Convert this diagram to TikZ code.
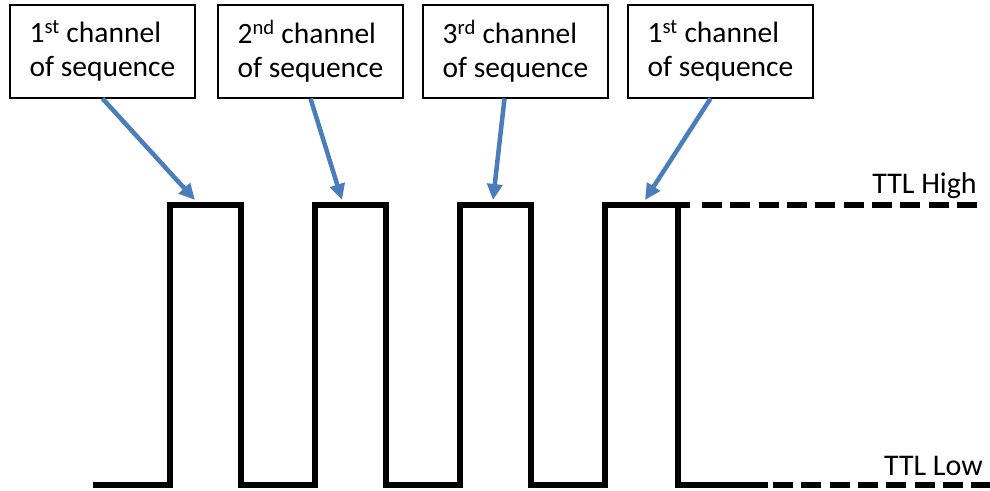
\documentclass[tikz,border=0pt]{standalone}
\usepackage{fontspec}
\setmainfont{Carlito}
\usetikzlibrary{arrows.meta}
\definecolor{arrowblue}{RGB}{74,126,187}

\begin{document}
\begin{tikzpicture}[x=1pt,y=-1pt,
  chbox/.style={draw,line width=2pt,minimum width=185pt,minimum height=93pt,
    align=left,inner sep=0pt,font=\fontsize{29.5}{34}\selectfont},
  pointer/.style={-{Triangle[length=16pt,width=15pt]},line width=4.5pt,arrowblue},
  wave/.style={line width=6.5pt,line join=miter},
  level/.style={wave,dash pattern=on 20pt off 8.33pt},
  ttl/.style={anchor=base east,inner sep=0pt,font=\fontsize{30}{34}\selectfont}]
\useasboundingbox (0,0) rectangle (990,490);
% ---------- channel boxes ----------
\node[chbox] (ch1) at (102.5,51) {1\textsuperscript{st} channel\\of sequence};
\node[chbox] (ch2) at (310.5,51) {2\textsuperscript{nd} channel\\of sequence};
\node[chbox] (ch3) at (515.5,51) {3\textsuperscript{rd} channel\\of sequence};
\node[chbox] (ch4) at (720.5,51) {1\textsuperscript{st} channel\\of sequence};
% ---------- pulse train ----------
\draw[wave] (93,485) -- (170,485) -- (170,205) -- (241,205) -- (241,485)
  -- (315,485) -- (315,205) -- (386,205) -- (386,485)
  -- (460,485) -- (460,205) -- (531,205) -- (531,485)
  -- (605,485) -- (605,205) -- (678,205) -- (678,485) -- (768,485);
\draw[wave] (678,205) -- (690,205);
\draw[level] (702,205) -- (978,205);
\draw[level] (773,485) -- (990,485);
\node[ttl] (high) at (977,193) {TTL High};
\node[ttl] (low) at (983,475) {TTL Low};
% ---------- pointers ----------
\coordinate (t1) at (195,200);
\coordinate (t2) at (342,200);
\coordinate (t3) at (493,200);
\coordinate (t4) at (645,200);
\draw[pointer] (ch1.south) -- (t1);
\draw[pointer] (ch2.south) -- (t2);
\draw[pointer] ([xshift=-11pt]ch3.south) -- (t3);
\draw[pointer] ([xshift=-10pt]ch4.south) -- (t4);
\end{tikzpicture}
\end{document}
